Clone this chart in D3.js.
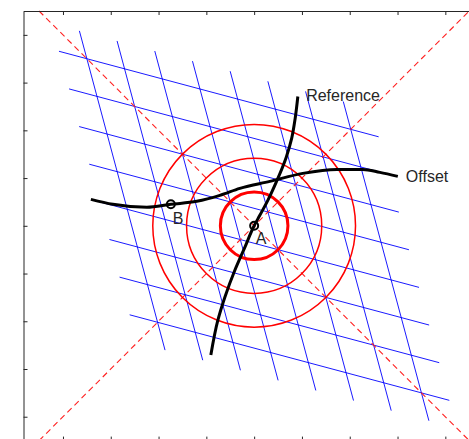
<!DOCTYPE html>
<html>
<head>
<meta charset="utf-8">
<script src="https://cdn.jsdelivr.net/npm/d3@7"></script>
<style>
  body { margin: 0; background: #fff; }
  text { font-family: "Liberation Sans", Arial, sans-serif; }
</style>
</head>
<body>
<svg id="chart"></svg>
<script>
var width = 469, height = 439;

// axis ticks
var ticks = [-4, -3, -2, -1, 0, 1, 2, 3, 4];

// skewed grid: levels along each basis vector, and how far each line runs
var gridLevels = [-3.5, -2.5, -1.5, -0.5, 0.5, 1.5, 2.5, 3.5];
var gridExtent = 4.24;
var basisU = [0.7887, -0.2113];
var basisV = [0.2113, -0.7887];

// dashed diagonals
var diagonals = [
    [[-4.5, 4.5], [4.5, -4.5]],
    [[-4.5, -4.5], [4.5, 4.5]]
];

// circles around A
var circleRadii = [0.707, 1.414, 2.121];
var circleWidths = [3, 1.5, 1.5];

// curves
var referenceCurve = [
    [-0.906, -2.709], [-0.759, -1.977], [-0.613, -1.496], [-0.404, -0.931],
    [-0.195, -0.450], [0, 0], [0.119, 0.220], [0.286, 0.534], [0.478, 0.952],
    [0.670, 1.433], [0.785, 1.831], [0.858, 2.249], [0.914, 2.709]
];
var offsetCurve = [
    [-3.416, 0.554], [-2.956, 0.450], [-2.245, 0.387], [-1.743, 0.450],
    [-1.199, 0.513], [-0.718, 0.638], [-0.299, 0.785], [0.328, 0.931],
    [1.019, 1.098], [1.730, 1.182], [2.274, 1.182], [2.630, 1.119], [3.006, 1.036]
];

var points = [
    {name: "A", pos: [0, 0], label: [0.036, -0.387]},
    {name: "B", pos: [-1.743, 0.450], label: [-1.701, 0.031]}
];
var curveLabels = [
    {text: "Reference", pos: [1.088, 2.605]},
    {text: "Offset", pos: [3.174, 0.910]}
];

var svg = d3.select('#chart')
    .attr('width', width)
    .attr('height', height);

var x = d3.scaleLinear().domain([-4.83, 4.83]).range([23.3, 485]);
var y = d3.scaleLinear().domain([-4.5, 4.5]).range([440.6, 11]);

var straight = d3.line()
    .x(d => x(d[0]))
    .y(d => y(d[1]));

// grid point from grid coords (a along U, b along V)
function gp(a, b) {
    return [a * basisU[0] + b * basisV[0], a * basisU[1] + b * basisV[1]];
}

var gridLines = [];
gridLevels.forEach(k => {
    gridLines.push([gp(k, -gridExtent), gp(k, gridExtent)]);
    gridLines.push([gp(-gridExtent, k), gp(gridExtent, k)]);
});

svg.append("g")
    .selectAll("path")
    .data(gridLines)
    .enter()
    .append("path")
        .attr("d", straight)
        .attr("fill", "none")
        .attr("stroke", "#0000ff")
        .attr("stroke-width", 0.9);

svg.append("g")
    .selectAll("path")
    .data(diagonals)
    .enter()
    .append("path")
        .attr("d", straight)
        .attr("fill", "none")
        .attr("stroke", "#ff2020")
        .attr("stroke-width", 1.1)
        .attr("stroke-dasharray", "6,4");

svg.append("g")
    .selectAll("circle")
    .data(circleRadii)
    .enter()
    .append("circle")
        .attr("cx", x(0))
        .attr("cy", y(0))
        .attr("r", d => x(d) - x(0))
        .attr("fill", "none")
        .attr("stroke", "#ff0000")
        .attr("stroke-width", (d, i) => circleWidths[i]);

var refLine = d3.line().x(d => x(d[0])).y(d => y(d[1])).curve(d3.curveMonotoneY);
var offLine = d3.line().x(d => x(d[0])).y(d => y(d[1])).curve(d3.curveMonotoneX);

svg.append("path")
    .datum(referenceCurve)
    .attr("d", refLine)
    .attr("fill", "none")
    .attr("stroke", "#000")
    .attr("stroke-width", 3);

svg.append("path")
    .datum(offsetCurve)
    .attr("d", offLine)
    .attr("fill", "none")
    .attr("stroke", "#000")
    .attr("stroke-width", 3);

svg.append("g")
    .selectAll("circle")
    .data(points)
    .enter()
    .append("circle")
        .attr("cx", d => x(d.pos[0]))
        .attr("cy", d => y(d.pos[1]))
        .attr("r", 4)
        .attr("fill", "none")
        .attr("stroke", "#000")
        .attr("stroke-width", 2);

svg.append("g")
    .selectAll("text")
    .data(points.map(p => ({text: p.name, pos: p.label})).concat(curveLabels))
    .enter()
    .append("text")
        .attr("x", d => x(d.pos[0]))
        .attr("y", d => y(d.pos[1]))
        .attr("font-size", "16px")
        .attr("fill", "#262626")
        .text(d => d.text);

// axes box with inward ticks, no labels (cropped in the original)
function styleAxis(g) {
    g.select(".domain").attr("stroke", "#262626");
    g.selectAll(".tick line").attr("stroke", "#262626");
}
svg.append("g").attr("transform", "translate(0,11)")
    .call(d3.axisBottom(x).tickValues(ticks).tickSize(4).tickSizeOuter(0).tickFormat(""))
    .call(styleAxis);
svg.append("g").attr("transform", "translate(0," + y(-4.5) + ")")
    .call(d3.axisTop(x).tickValues(ticks).tickSize(4).tickSizeOuter(0).tickFormat(""))
    .call(styleAxis);
svg.append("g").attr("transform", "translate(23.5,0)")
    .call(d3.axisRight(y).tickValues(ticks).tickSize(4).tickSizeOuter(0).tickFormat(""))
    .call(styleAxis);
svg.append("g").attr("transform", "translate(485,0)")
    .call(d3.axisLeft(y).tickValues(ticks).tickSize(4).tickSizeOuter(0).tickFormat(""))
    .call(styleAxis);
</script>
</body>
</html>
